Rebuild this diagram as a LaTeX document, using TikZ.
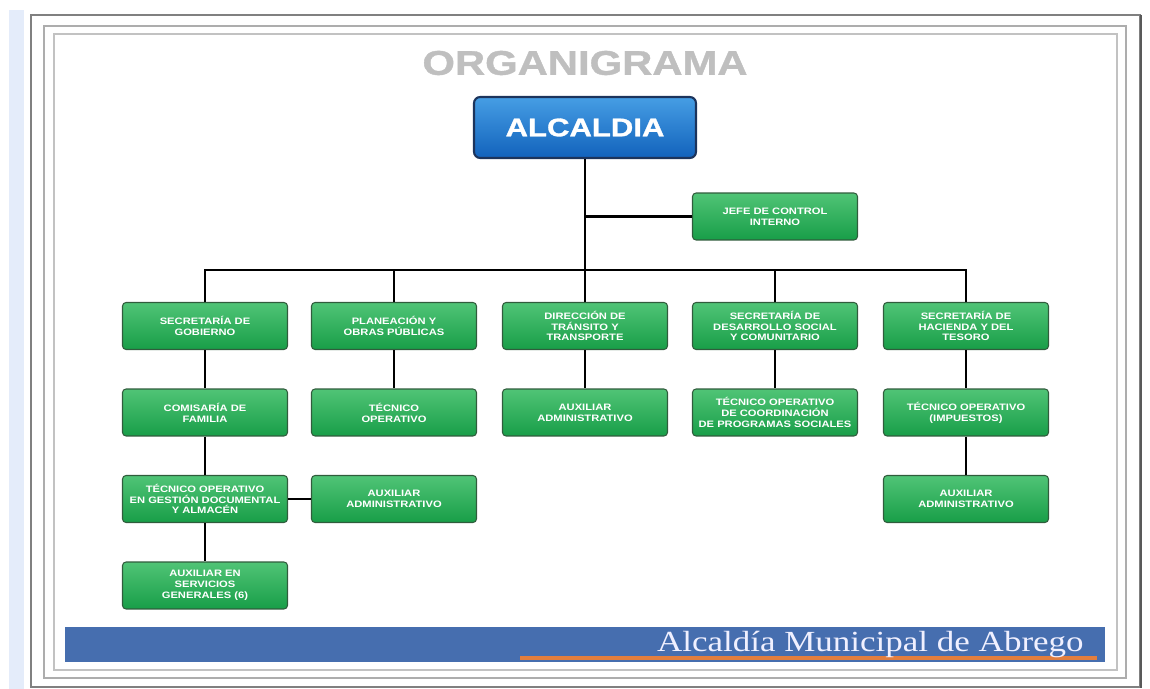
\documentclass[tikz,border=0pt]{standalone}
\usepackage{fontspec}
\newfontfamily\boxfont[FakeStretch=1.2]{Liberation Sans}
\newfontfamily\heavyfont[FakeStretch=1.22,FakeBold=1.2]{Liberation Sans}
\newfontfamily\footfont[FakeStretch=1.2]{Liberation Serif}
\definecolor{greentop}{RGB}{80,196,118}
\definecolor{greenbot}{RGB}{24,158,72}
\definecolor{greenedge}{RGB}{48,92,60}
\definecolor{bluetop}{RGB}{70,158,228}
\definecolor{bluebot}{RGB}{18,98,188}
\definecolor{blueedge}{RGB}{28,52,92}
\definecolor{barblue}{RGB}{70,110,175}
\definecolor{barorange}{RGB}{226,126,62}
\definecolor{stripblue}{RGB}{228,236,250}
\begin{document}
\begin{tikzpicture}[x=0.02cm, y=-0.02cm,
  unit/.style={draw=greenedge, line width=0.6pt, top color=greentop, bottom color=greenbot, rounded corners=2pt, minimum width=3.3cm, minimum height=0.94cm, inner sep=0pt, align=center, text=white, font=\boxfont\bfseries\fontsize{5.3}{6.2}\selectfont},
  head/.style={draw=blueedge, line width=1.2pt, top color=bluetop, bottom color=bluebot, rounded corners=3.5pt, minimum width=4.44cm, minimum height=1.22cm, inner sep=0pt, text=white, font=\heavyfont\bfseries\fontsize{14.5}{16}\selectfont},
  link/.style={draw=black, line width=1.3pt}]
	\useasboundingbox (0,0) rectangle (1150,689);
	% marcos de la hoja
	\fill[stripblue] (9,10) rectangle (24,689);
	\draw[line width=1.2pt, black!50] (31,15) rectangle (1140,687);
	\draw[line width=1.6pt, black!65] (1141,15) -- (1141,688);
	\draw[line width=1pt, black!32] (44,26) rectangle (1126,678);
	\draw[line width=1.2pt, black!24] (54,34) rectangle (1117,670);
	\node[text=black!25, font=\heavyfont\bfseries\fontsize{19.5}{21}\selectfont] (titulo) at (585,63) {ORGANIGRAMA};
	% cajas
	\node[head] (alc) at (585,127.5) {ALCALDIA};
	\node[unit] (jefe) at (775,216.5) {JEFE DE CONTROL\\INTERNO};
	\node[unit] (sg) at (205,326) {SECRETARÍA DE\\GOBIERNO};
	\node[unit] (po) at (394,326) {PLANEACIÓN Y\\OBRAS PÚBLICAS};
	\node[unit] (dt) at (585,326) {DIRECCIÓN DE\\TRÁNSITO Y\\TRANSPORTE};
	\node[unit] (ds) at (775,326) {SECRETARÍA DE\\DESARROLLO SOCIAL\\Y COMUNITARIO};
	\node[unit] (sh) at (966,326) {SECRETARÍA DE\\HACIENDA Y DEL\\TESORO};
	\node[unit] (cf) at (205,412.5) {COMISARÍA DE\\FAMILIA};
	\node[unit] (to) at (394,412.5) {TÉCNICO\\OPERATIVO};
	\node[unit] (aa2) at (585,412.5) {AUXILIAR\\ADMINISTRATIVO};
	\node[unit] (tc) at (775,412.5) {TÉCNICO OPERATIVO\\DE COORDINACIÓN\\DE PROGRAMAS SOCIALES};
	\node[unit] (ti) at (966,412.5) {TÉCNICO OPERATIVO\\(IMPUESTOS)};
	\node[unit] (tg) at (205,499) {TÉCNICO OPERATIVO\\EN GESTIÓN DOCUMENTAL\\Y ALMACÉN};
	\node[unit] (aa1) at (394,499) {AUXILIAR\\ADMINISTRATIVO};
	\node[unit] (aa3) at (966,499) {AUXILIAR\\ADMINISTRATIVO};
	\node[unit] (as) at (205,585.5) {AUXILIAR EN\\SERVICIOS\\GENERALES (6)};
	% lineas
	\coordinate (bus) at (585,270);
	\draw[link] (alc) -- (dt);
	\draw[link] (alc.south |- jefe.west) -- (jefe.west);
	\draw[link] (sg.north) |- (bus) -| (sh.north);
	\draw[link] (po.north) -- (po.north |- bus);
	\draw[link] (ds.north) -- (ds.north |- bus);
	\draw[link] (sg) -- (cf);
	\draw[link] (cf) -- (tg);
	\draw[link] (tg) -- (as);
	\draw[link] (tg) -- (aa1);
	\draw[link] (po) -- (to);
	\draw[link] (dt) -- (aa2);
	\draw[link] (ds) -- (tc);
	\draw[link] (sh) -- (ti);
	\draw[link] (ti) -- (aa3);
	% pie
	\fill[barblue] (65,627) rectangle (1105,662);
	\draw[line width=2.2pt, barorange] (520,658) -- (1097,658);
	\node[anchor=base east, inner sep=0pt, text=white!94!blue, font=\footfont\fontsize{16.6}{18}\selectfont] (pie) at (1084,651) {Alcaldía Municipal de Abrego};
\end{tikzpicture}
\end{document}
